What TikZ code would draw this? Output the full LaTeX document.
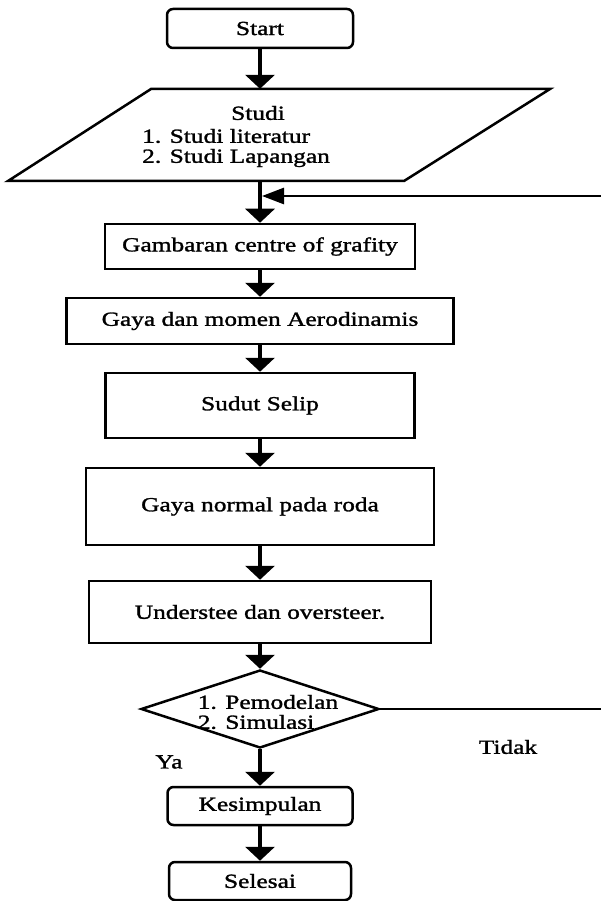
\documentclass[tikz,border=0pt]{standalone}
\usepackage{fontspec}
\setmainfont{Liberation Serif}[FakeStretch=1.27,FakeBold=1.4]
\usetikzlibrary{arrows.meta,shapes.geometric}
\begin{document}
\begin{tikzpicture}[x=1pt,y=-1pt,
  every node/.style={font=\fontsize{20}{20}\selectfont, inner sep=0pt},
  proc/.style={draw, line width=2.5pt},
  term/.style={draw, line width=2.5pt, rounded corners=6pt},
  down/.style={line width=4pt, -{Triangle[width=29pt,length=14pt]}},
  back/.style={line width=2.7pt, -{Triangle[width=16pt,length=22pt]}}]
\useasboundingbox (0,0) rectangle (601,901);
\clip (0,0) rectangle (601,901);

\node[term, minimum width=186pt, minimum height=39pt] (start) at (260,28.5) {Start};

% parallelogram (input/output)
\node[minimum width=542pt, minimum height=92pt] (studi) at (279,135) {};
\draw[line width=2.5pt, line join=miter] (8,181) -- (404,181) -- (550,89) -- (151,89) -- cycle;
\node (studiT) at (258,113) {Studi};
\node[anchor=west, align=left] (list) at (142,148) {1. Studi literatur\\2. Studi Lapangan};

\node[proc, minimum width=310pt, minimum height=45pt] (b1) at (260,246.5) {Gambaran centre of grafity};
\node[proc, minimum width=387pt, minimum height=46pt] (b2) at (260,321) {Gaya dan momen Aerodinamis};
\node[proc, minimum width=309pt, minimum height=65pt] (b3) at (260,405.5) {Sudut Selip};
\node[proc, minimum width=348pt, minimum height=77pt] (b4) at (260,506.5) {Gaya normal pada roda};
\node[proc, minimum width=342pt, minimum height=62pt] (b5) at (260,612) {Understee dan oversteer.};

\node[draw, line width=2.5pt, diamond, minimum width=238pt, minimum height=78pt] (dec) at (260,709) {};
\node[align=left] (dtxt) at (268,712) {1. Pemodelan\\2. Simulasi};

\node[term, minimum width=185pt, minimum height=38pt] (kes) at (260,806) {Kesimpulan};
\node[term, minimum width=182pt, minimum height=38pt] (sel) at (260,881) {Selesai};

\node (ya) at (169,762) {Ya};
\node (tidak) at (508,747) {Tidak};

\draw[down] (start.south) -- (start.south |- studi.north);
\draw[down] (b1.north |- studi.south) -- (b1.north);
\draw[down] (b1.south) -- (b2.north);
\draw[down] (b2.south) -- (b3.north);
\draw[down] (b3.south) -- (b4.north);
\draw[down] (b4.south) -- (b5.north);
\draw[down] (b5.south) -- (dec.north);
\draw[down] (dec.south) -- (kes.north);
\draw[down] (kes.south) -- (sel.north);

\coordinate (rt) at (606,709);
\coordinate (rtop) at (606,196);
\coordinate (join) at (262,196);
\draw[back] (dec.east) -- (rt) -- (rtop) -- (join);
\end{tikzpicture}
\end{document}
